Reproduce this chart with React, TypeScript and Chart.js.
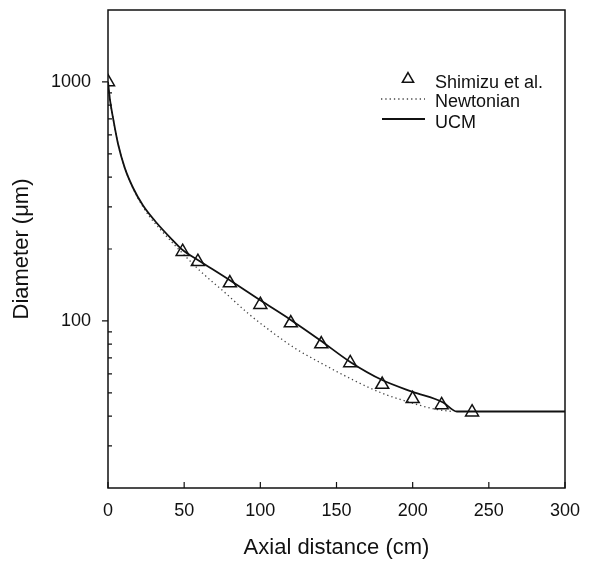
import React, { useEffect, useRef } from "react";
import { Chart, registerables } from "chart.js";

Chart.register(...registerables);

// Experimental data (Shimizu et al.)
const expX = [0, 49, 59, 80, 100, 120, 140, 159, 180, 200, 219, 239];
const expY = [1000, 195, 177, 144, 117, 98, 80, 66.7, 54.2, 47.2, 44.5, 41.5];

// UCM model
const ucmX = [0, 1.3, 3.3, 6.6, 11, 16.5, 23, 32, 43, 49, 59, 80, 100, 120, 139, 159, 180, 200, 220, 229, 300];
const ucmY = [1000, 841, 707, 550, 437, 360, 304, 257, 216, 198, 180, 148, 122, 101, 83.3, 67.4, 56.6, 50.5, 45.6, 41.8, 41.8];

// Newtonian model
const newtX = [0, 1.3, 3.3, 6.6, 11, 16.5, 23, 27.5, 34, 44, 60, 77, 92, 108, 124, 139, 150, 161, 172, 183, 194, 205, 216, 226];
const newtY = [1000, 841, 707, 550, 437, 358, 300, 272, 243, 207, 163, 131, 107.5, 89.5, 76, 67.1, 61.5, 56.6, 52.4, 49, 46.5, 44.3, 42.6, 41.8];

const xTicks = [0, 50, 100, 150, 200, 250, 300];
const yLabelTicks = [100, 1000];
const yMinorTicks = [30, 40, 50, 60, 70, 80, 90, 200, 300, 400, 500, 600, 700, 800, 900];

const legendLabels = ["Shimizu et al.", "Newtonian", "UCM"];

const FONT = "'Liberation Sans', Arial, sans-serif";

const framePlugin = {
  id: "frame",
  afterDraw(chart: any) {
    const { ctx, chartArea } = chart;
    const xs = chart.scales.x;
    const ys = chart.scales.y;
    ctx.save();
    ctx.strokeStyle = "#111";
    ctx.lineWidth = 1.5;
    ctx.strokeRect(chartArea.left, chartArea.top, chartArea.right - chartArea.left, chartArea.bottom - chartArea.top);
    ctx.lineWidth = 1.2;
    ctx.beginPath();
    for (const v of xTicks) {
      const px = xs.getPixelForValue(v);
      ctx.moveTo(px, chartArea.bottom);
      ctx.lineTo(px, chartArea.bottom - 6);
    }
    for (const v of yMinorTicks) {
      const py = ys.getPixelForValue(v);
      ctx.moveTo(chartArea.left, py);
      ctx.lineTo(chartArea.left + 4, py);
    }
    for (const v of yLabelTicks) {
      const py = ys.getPixelForValue(v);
      ctx.moveTo(chartArea.left - 6, py);
      ctx.lineTo(chartArea.left, py);
    }
    ctx.stroke();

    // Legend
    const lx = 435;
    ctx.fillStyle = "#111";
    ctx.font = `18px ${FONT}`;
    ctx.textBaseline = "alphabetic";
    ctx.textAlign = "left";
    ctx.lineWidth = 1.5;
    ctx.strokeStyle = "#111";
    ctx.beginPath();
    const tx = 408, ty = 79, r = 6.5;
    for (let i = 0; i < 3; i++) {
      const a = (i * 2 * Math.PI) / 3;
      const px = tx + Math.sin(a) * r;
      const py = ty - Math.cos(a) * r;
      if (i === 0) ctx.moveTo(px, py); else ctx.lineTo(px, py);
    }
    ctx.closePath();
    ctx.stroke();
    ctx.fillText(legendLabels[0], lx, 88);
    ctx.strokeStyle = "#444";
    ctx.lineWidth = 1.3;
    ctx.setLineDash([1.3, 3]);
    ctx.beginPath();
    ctx.moveTo(381, 99);
    ctx.lineTo(425, 99);
    ctx.stroke();
    ctx.setLineDash([]);
    ctx.fillText(legendLabels[1], lx, 107);
    ctx.strokeStyle = "#111";
    ctx.lineWidth = 1.8;
    ctx.beginPath();
    ctx.moveTo(382, 119);
    ctx.lineTo(425, 119);
    ctx.stroke();
    ctx.fillText(legendLabels[2], lx, 128);
    ctx.restore();
  },
};

export default function App() {
  const ref = useRef<HTMLCanvasElement | null>(null);
  useEffect(() => {
    if (!ref.current) return;
    const chart = new Chart(ref.current, {
      type: "scatter",
      data: {
        datasets: [
          {
            label: "Newtonian",
            data: newtX.map((x, i) => ({ x, y: newtY[i] })),
            showLine: true,
            borderColor: "#444",
            borderWidth: 1.3,
            borderDash: [1.3, 3],
            pointRadius: 0,
            cubicInterpolationMode: "monotone",
            order: 3,
          },
          {
            label: "UCM",
            data: ucmX.map((x, i) => ({ x, y: ucmY[i] })),
            showLine: true,
            borderColor: "#111",
            borderWidth: 1.8,
            pointRadius: 0,
            cubicInterpolationMode: "monotone",
            order: 2,
          },
          {
            label: "Shimizu et al.",
            data: expX.map((x, i) => ({ x, y: expY[i] })),
            showLine: false,
            pointStyle: "triangle",
            pointRadius: 7.5,
            borderColor: "#111",
            borderWidth: 1.5,
            backgroundColor: "rgba(255,255,255,0)",
            order: 1,
          },
        ],
      } as any,
      options: {
        responsive: false,
        animation: false,
        devicePixelRatio: 1,
        layout: { padding: { left: 0, right: 25, top: 10, bottom: 0 } },
        plugins: { legend: { display: false }, tooltip: { enabled: false } },
        scales: {
          x: {
            type: "linear",
            min: 0,
            max: 300,
            grid: { display: false, drawTicks: false },
            border: { display: false },
            afterBuildTicks: (axis: any) => {
              axis.ticks = xTicks.map((v) => ({ value: v }));
            },
            afterFit: (axis: any) => {
              axis.height = 74;
              axis.paddingLeft = 0;
              axis.paddingRight = 0;
            },
            ticks: {
              color: "#111",
              font: { family: FONT, size: 18 },
              padding: 12,
              maxRotation: 0,
              callback: (v: any) => String(v),
            },
            title: {
              display: true,
              text: "Axial distance (cm)",
              color: "#111",
              font: { family: FONT, size: 22 },
              padding: { top: 0, bottom: 1 },
            },
          },
          y: {
            type: "logarithmic",
            min: 20,
            max: 2000,
            grid: { display: false, drawTicks: false },
            border: { display: false },
            afterBuildTicks: (axis: any) => {
              axis.ticks = yLabelTicks.map((v) => ({ value: v }));
            },
            afterFit: (axis: any) => {
              axis.width = 108;
              axis.paddingTop = 0;
              axis.paddingBottom = 0;
            },
            ticks: {
              color: "#111",
              font: { family: FONT, size: 18 },
              padding: 17,
              callback: (v: any) => String(v),
            },
            title: {
              display: true,
              text: "Diameter (μm)",
              color: "#111",
              font: { family: FONT, size: 22 },
              padding: { top: 9, bottom: 0 },
            },
          },
        },
      } as any,
      plugins: [framePlugin],
    });
    return () => chart.destroy();
  }, []);
  return (
    <div style={{ position: "absolute", left: 0, top: 0, width: 590, height: 562, background: "#fff" }}>
      <canvas ref={ref} width={590} height={562} style={{ display: "block" }} />
    </div>
  );
}
